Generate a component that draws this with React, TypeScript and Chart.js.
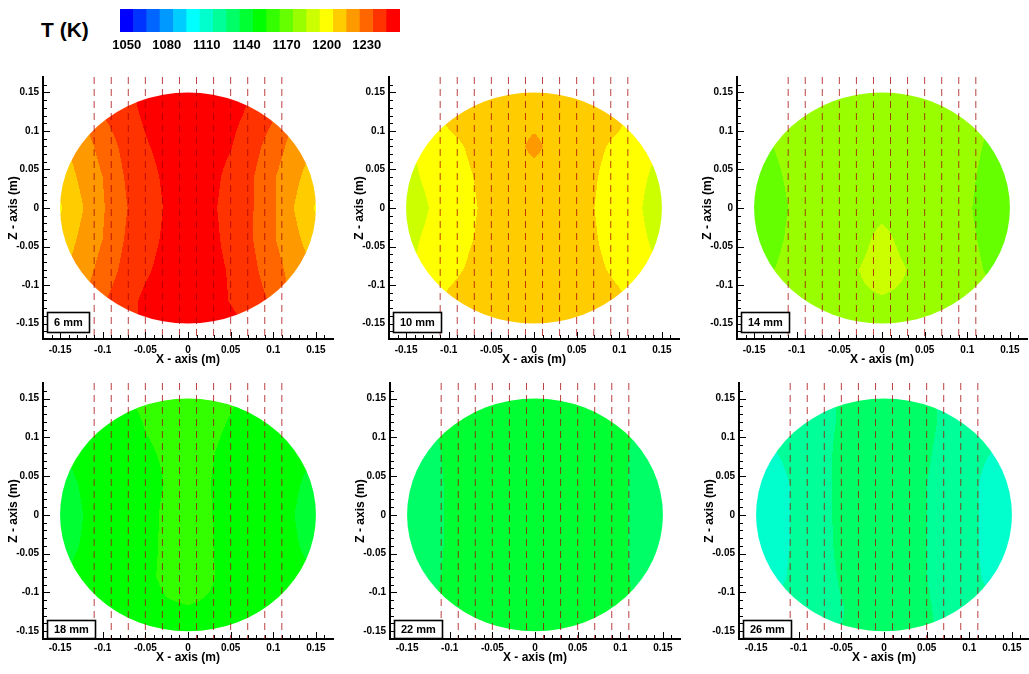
import { useEffect, useRef } from 'react';
import { Chart, registerables } from 'chart.js';

Chart.register(...registerables);

const FONT = "'Liberation Sans', Arial, Helvetica, sans-serif";
Chart.defaults.font.family = FONT;

// ---------------- data ----------------
const LEGEND_LEVELS = [1050, 1060, 1070, 1080, 1090, 1100, 1110, 1120, 1130, 1140, 1150, 1160, 1170, 1180, 1190, 1200, 1210, 1220, 1230, 1240, 1250];
const LEGEND_TICKS = [1050, 1080, 1110, 1140, 1170, 1200, 1230];
const BAND_COLORS = [
  '#0000ff', '#0033ff', '#0066ff', '#0099ff', '#00ccff', '#00ffff', '#00ffcc', '#00ff99', '#00ff66', '#00ff33',
  '#00ff00', '#33ff00', '#66ff00', '#99ff00', '#ccff00', '#ffff00', '#ffcc00', '#ff9900', '#ff6600', '#ff3300', '#ff0000',
];
const AXIS_TICKS = [-0.15, -0.1, -0.05, 0, 0.05, 0.1, 0.15];
const PROBE_X = [-0.11, -0.09, -0.07, -0.05, -0.03, -0.01, 0.01, 0.03, 0.05, 0.07, 0.09, 0.11];
const DUCT_RADIUS = 0.15;

// temperature grids (K): columns GRID_X, rows GRID_Z (top to bottom)
const GRID_X = [-0.15, -0.125, -0.1, -0.075, -0.05, -0.025, 0, 0.025, 0.05, 0.075, 0.1, 0.125, 0.15];
const GRID_Z = [0.15, 0.12, 0.08, 0.04, 0, -0.04, -0.08, -0.12, -0.15];

const T_6MM = [
  [1222, 1228, 1237, 1243, 1247.5, 1250.5, 1252, 1251, 1249, 1245, 1238, 1229, 1223],
  [1218, 1223, 1235, 1241, 1246.5, 1250, 1252, 1250, 1247.5, 1243, 1236, 1224, 1219],
  [1213, 1220, 1228.5, 1237.5, 1244, 1248.5, 1252, 1249, 1245.5, 1239, 1230, 1221, 1214],
  [1208, 1217, 1225, 1235, 1241.25, 1247, 1251, 1248, 1242.5, 1236, 1226, 1217.5, 1209],
  [1204, 1214, 1224, 1234, 1240, 1246, 1250, 1247, 1241.5, 1235.7, 1226.2, 1214.6, 1204],
  [1208, 1217, 1225, 1235, 1241, 1247, 1251, 1248, 1242, 1235.5, 1226, 1217.5, 1209],
  [1213, 1220, 1228.5, 1237.5, 1243.5, 1248.5, 1252, 1248.5, 1244, 1237.5, 1229, 1221, 1214],
  [1218, 1223, 1234, 1241, 1247, 1249.5, 1252, 1249, 1244.5, 1240, 1233, 1222, 1216],
  [1222, 1228, 1236, 1242, 1247, 1250, 1252, 1250.5, 1247.5, 1243, 1236, 1227, 1221],
];
const T_10MM = [
  [1201, 1205, 1208, 1210, 1211, 1211.5, 1212, 1211.5, 1211, 1210, 1208, 1205, 1201],
  [1198, 1202, 1207, 1209, 1210.5, 1211, 1211, 1211, 1210.5, 1209, 1207, 1202, 1198],
  [1194, 1198, 1202.5, 1206, 1209, 1211, 1218, 1211, 1209, 1206.3, 1203, 1198.5, 1194.5],
  [1192, 1196.6, 1200.6, 1204.5, 1207.5, 1209.5, 1210.5, 1209.5, 1207.5, 1205, 1200.8, 1196.5, 1192],
  [1189, 1194.6, 1199.3, 1203.9, 1207, 1209, 1210, 1209, 1207, 1204.6, 1200, 1195.4, 1190],
  [1192, 1196.6, 1200.6, 1204.5, 1207.5, 1209.5, 1210.5, 1209.5, 1207.5, 1205, 1200.8, 1196.5, 1192],
  [1194, 1198, 1202.8, 1206, 1209, 1210.5, 1211, 1210.5, 1209, 1206.3, 1203, 1198.5, 1194.5],
  [1198, 1202, 1206.5, 1209, 1210.5, 1211, 1211, 1211, 1210.5, 1209, 1206.5, 1202, 1198],
  [1201, 1205, 1208, 1210, 1211, 1211.5, 1212, 1211.5, 1211, 1210, 1208, 1205, 1201],
];
const T_14MM = [
  [1177, 1178, 1178.5, 1179, 1179.5, 1180, 1180, 1180, 1179.5, 1179, 1178.5, 1177.5, 1176.5],
  [1175.5, 1176.5, 1177.5, 1178.5, 1179.5, 1180, 1180.5, 1180, 1179.5, 1178.5, 1177.5, 1175, 1175],
  [1173, 1175.2, 1177, 1178, 1179, 1180, 1180.5, 1180, 1179, 1178, 1176.5, 1174.4, 1173],
  [1172, 1174.2, 1176.5, 1178, 1179, 1180, 1181, 1180, 1179, 1178, 1176, 1173.6, 1172],
  [1171, 1173.5, 1176, 1178, 1179, 1180, 1181, 1180, 1179, 1178, 1175.6, 1173, 1171],
  [1172, 1174, 1176.5, 1178, 1179, 1181, 1189, 1181.5, 1179, 1178, 1176, 1173.8, 1172],
  [1173.5, 1175.1, 1177, 1178, 1180, 1185.5, 1192, 1186, 1180, 1178, 1176.5, 1174.5, 1173],
  [1175.5, 1176.5, 1177.5, 1178.5, 1179.5, 1182.5, 1183.5, 1182.5, 1179.5, 1178.5, 1177.5, 1176, 1175.5],
  [1177, 1178, 1178.5, 1179, 1179.5, 1180, 1180.5, 1180, 1179.5, 1179, 1178.5, 1177.5, 1177],
];
const T_18MM = [
  [1149, 1149, 1151, 1154, 1157, 1158, 1158, 1158, 1156, 1153, 1151, 1149, 1149],
  [1148, 1148, 1150, 1152, 1155.5, 1157, 1157.5, 1157, 1154.5, 1151.5, 1150, 1148, 1148],
  [1144.5, 1147, 1149, 1151, 1154, 1156, 1157, 1155.7, 1153, 1150.5, 1149, 1147, 1145],
  [1142.5, 1145.5, 1148, 1150, 1152, 1155.5, 1157, 1155.2, 1152, 1150, 1148, 1145.8, 1143],
  [1141, 1144.7, 1148, 1150, 1152.5, 1156.5, 1158, 1155.5, 1152, 1150, 1148, 1145, 1141.5],
  [1142.5, 1145.3, 1148, 1150, 1152.5, 1156.6, 1158, 1155.7, 1152, 1150, 1148, 1145.6, 1143],
  [1144.5, 1147, 1149, 1150.5, 1153, 1157, 1158.5, 1156, 1152.5, 1150.5, 1149, 1147, 1145],
  [1147.5, 1148, 1149.5, 1150.5, 1151, 1154, 1154.7, 1154, 1151, 1150.5, 1149.5, 1148, 1147.5],
  [1149, 1149, 1150, 1150.5, 1151, 1151.5, 1152, 1151.5, 1151, 1150.5, 1150, 1149, 1149],
];
const T_22MM = [
  [1135, 1136, 1137.5, 1139, 1140, 1141, 1141.5, 1141, 1140, 1139, 1137.5, 1136, 1135],
  [1133.5, 1134.5, 1136.5, 1138.5, 1140, 1141, 1141.5, 1141, 1140, 1138.5, 1136.5, 1134.5, 1133.5],
  [1131, 1133.5, 1136, 1138, 1140, 1141, 1141.5, 1141, 1140, 1138, 1136, 1133.5, 1131],
  [1130, 1133, 1135.8, 1138, 1140, 1141, 1141.5, 1141, 1140, 1138, 1136, 1133.2, 1130],
  [1130, 1133, 1135.8, 1138, 1140, 1141, 1141.5, 1141, 1140, 1138, 1136, 1133.2, 1130],
  [1130, 1133, 1135.8, 1138, 1140, 1141, 1141.5, 1141, 1140, 1138, 1136, 1133.2, 1130],
  [1131, 1133.5, 1136, 1138, 1140, 1141, 1141.5, 1141, 1140, 1138, 1136, 1133.5, 1131],
  [1133.5, 1134.5, 1136.5, 1138.5, 1140, 1141, 1141.5, 1141, 1140, 1138.5, 1136.5, 1134.5, 1133.5],
  [1135, 1136, 1137.5, 1139, 1140, 1141, 1141.5, 1141, 1140, 1139, 1137.5, 1136, 1135],
];
const T_26MM = [
  [1118, 1119, 1120, 1122, 1126, 1129, 1130, 1129, 1127, 1123, 1120, 1119, 1118],
  [1116, 1117, 1119, 1122, 1126, 1128.5, 1130, 1128.5, 1127, 1123, 1119, 1117, 1116],
  [1113, 1115, 1117.5, 1121.5, 1127.5, 1129, 1130, 1129, 1126, 1122, 1117.5, 1115, 1113],
  [1110.5, 1113, 1116.5, 1121, 1128, 1129, 1130, 1129, 1125, 1121.5, 1117, 1112.5, 1110],
  [1110, 1113, 1116.5, 1121, 1128, 1129, 1130, 1129, 1125, 1121.5, 1117, 1112.5, 1109],
  [1110.5, 1113, 1116.5, 1121, 1127.5, 1129, 1130, 1129, 1125, 1121.5, 1117, 1112.5, 1110],
  [1112, 1113.5, 1117, 1121, 1126, 1128.5, 1130, 1128.5, 1125, 1121.5, 1117, 1113.5, 1112],
  [1115, 1116, 1118, 1121, 1124.5, 1128, 1130, 1128, 1126, 1122, 1118, 1116, 1115],
  [1117, 1118, 1119.5, 1121.5, 1125, 1128.5, 1130, 1128.5, 1126.5, 1122.5, 1119.5, 1118, 1117],
];
const SECTION_LABELS = ['6 mm', '10 mm', '14 mm', '18 mm', '22 mm', '26 mm'];
const SECTION_GRIDS = [T_6MM, T_10MM, T_14MM, T_18MM, T_22MM, T_26MM];

// ---------------- layout (page pixels of each plot area) ----------------
const ROWS = [
  { top: 77, bottom: 339, yMin: -0.17, yMax: 0.17, tickPad: 5, titlePad: 6 },
  { top: 383, bottom: 639, yMin: -0.16, yMax: 0.17, tickPad: 3, titlePad: 8 },
];
const COLS = [
  [{ left: 43, right: 333 }, { left: 389, right: 679 }, { left: 737, right: 1027 }],
  [{ left: 43, right: 333 }, { left: 390, right: 680 }, { left: 739, right: 1029 }],
];
const X_RANGE = [-0.17, 0.17];
const Y_AXIS_W = 43;
const X_AXIS_H = 34;
const PAD_TOP = 10;
const PAD_RIGHT = 8;

const BAND_RGB = BAND_COLORS.map((h) => [
  parseInt(h.slice(1, 3), 16),
  parseInt(h.slice(3, 5), 16),
  parseInt(h.slice(5, 7), 16),
]);

function clamp(v: number, a: number, b: number) {
  return v < a ? a : v > b ? b : v;
}

function sampleGrid(g: number[][], x: number, z: number) {
  let i = 0;
  while (i < GRID_X.length - 2 && x > GRID_X[i + 1]) i++;
  let j = 0;
  while (j < GRID_Z.length - 2 && z < GRID_Z[j + 1]) j++;
  const tx = clamp((x - GRID_X[i]) / (GRID_X[i + 1] - GRID_X[i]), 0, 1);
  const tz = clamp((z - GRID_Z[j]) / (GRID_Z[j + 1] - GRID_Z[j]), 0, 1);
  const a = g[j][i] * (1 - tx) + g[j][i + 1] * tx;
  const b = g[j + 1][i] * (1 - tx) + g[j + 1][i + 1] * tx;
  return a * (1 - tz) + b * tz;
}

function makeFieldPlugin(grid: number[][]) {
  return {
    id: 'tempField',
    beforeDatasetsDraw(chart: any) {
      const { ctx, chartArea: a, scales } = chart;
      const xs = scales.x;
      const ys = scales.y;
      const left = Math.floor(a.left);
      const top = Math.floor(a.top);
      const w = Math.ceil(a.right) - left;
      const h = Math.ceil(a.bottom) - top;
      const off = document.createElement('canvas');
      off.width = w;
      off.height = h;
      const octx = off.getContext('2d') as CanvasRenderingContext2D;
      const img = octx.createImageData(w, h);
      const rr = (DUCT_RADIUS * 1.04) ** 2;
      const step = LEGEND_LEVELS[1] - LEGEND_LEVELS[0];
      const base = LEGEND_LEVELS[0] - step / 2;
      for (let j = 0; j < h; j++) {
        const z = ys.getValueForPixel(top + j + 0.5);
        for (let i = 0; i < w; i++) {
          const x = xs.getValueForPixel(left + i + 0.5);
          if (x * x + z * z > rr) continue;
          const t = sampleGrid(grid, x, z);
          const k = clamp(Math.floor((t - base) / step), 0, BAND_RGB.length - 1);
          const c = BAND_RGB[k];
          const p = (j * w + i) * 4;
          img.data[p] = c[0];
          img.data[p + 1] = c[1];
          img.data[p + 2] = c[2];
          img.data[p + 3] = 255;
        }
      }
      octx.putImageData(img, 0, 0);
      const cx = xs.getPixelForValue(0);
      const cy = ys.getPixelForValue(0);
      const rx = Math.abs(xs.getPixelForValue(DUCT_RADIUS) - cx);
      const ry = Math.abs(ys.getPixelForValue(DUCT_RADIUS) - cy);
      ctx.save();
      ctx.beginPath();
      ctx.ellipse(cx, cy, rx, ry, 0, 0, Math.PI * 2);
      ctx.clip();
      ctx.drawImage(off, left, top);
      ctx.restore();
    },
  };
}

const inwardTicksPlugin = {
  id: 'inwardTicks',
  afterDraw(chart: any) {
    const { ctx, chartArea: a, scales } = chart;
    const xs = scales.x;
    const ys = scales.y;
    ctx.save();
    ctx.strokeStyle = '#000';
    ctx.lineWidth = 1;
    ctx.beginPath();
    for (let n = -16; n <= 16; n++) {
      const v = n / 100;
      const len = n % 5 === 0 ? 6 : 3;
      if (v > xs.min && v < xs.max) {
        const px = Math.round(xs.getPixelForValue(v)) + 0.5;
        ctx.moveTo(px, a.bottom - 1);
        ctx.lineTo(px, a.bottom - 1 - len);
      }
      if (v > ys.min + 1e-9 && v < ys.max - 1e-9) {
        const py = Math.round(ys.getPixelForValue(v)) + 0.5;
        ctx.moveTo(a.left + 1, py);
        ctx.lineTo(a.left + 1 + len, py);
      }
    }
    ctx.stroke();
    ctx.restore();
  },
};

function makeLabelPlugin(label: string) {
  return {
    id: 'sectionLabel',
    afterDraw(chart: any) {
      const { ctx, chartArea: a, scales } = chart;
      ctx.save();
      ctx.font = `bold 11px ${FONT}`;
      const tw = ctx.measureText(label).width;
      const x0 = Math.round(scales.x.getPixelForValue(-0.165)) + 0.5;
      const y0 = Math.round(scales.y.getPixelForValue(-0.135)) + 0.5;
      const y1 = Math.min(Math.round(scales.y.getPixelForValue(-0.161)) + 0.5, a.bottom - 0.5);
      const w = Math.round(tw + 13);
      ctx.fillStyle = '#fff';
      ctx.fillRect(x0, y0, w, y1 - y0);
      ctx.strokeStyle = '#000';
      ctx.lineWidth = 1.6;
      ctx.strokeRect(x0, y0, w, y1 - y0);
      ctx.fillStyle = '#000';
      ctx.textBaseline = 'middle';
      ctx.textAlign = 'left';
      ctx.fillText(label, x0 + 6.5, (y0 + y1) / 2 + 0.5);
      ctx.restore();
    },
  };
}

function fmtTick(v: number) {
  return String(Math.round(Number(v) * 100) / 100);
}

function SectionPlot({ index }: { index: number }) {
  const ref = useRef<HTMLCanvasElement>(null);
  const rowIdx = index < 3 ? 0 : 1;
  const row = ROWS[rowIdx];
  const col = COLS[rowIdx][index % 3];
  const width = col.right - col.left + Y_AXIS_W + PAD_RIGHT;
  const height = row.bottom - row.top + PAD_TOP + X_AXIS_H;
  const left = col.left - Y_AXIS_W;
  const top = row.top - PAD_TOP;

  useEffect(() => {
    const canvas = ref.current;
    if (!canvas) return;
    const datasets = PROBE_X.map((px) => ({
      data: [
        { x: px, y: row.yMax },
        { x: px, y: row.yMin },
      ],
      showLine: true,
      borderColor: 'rgba(165,0,0,0.75)',
      borderWidth: 1,
      borderDash: [7, 5],
      pointRadius: 0,
      fill: false,
    }));
    const chart = new Chart(canvas, {
      type: 'scatter',
      data: { datasets },
      options: {
        animation: false,
        responsive: false,
        devicePixelRatio: 1,
        events: [],
        layout: { padding: { top: PAD_TOP, right: PAD_RIGHT, left: 0, bottom: 0 } },
        plugins: { legend: { display: false }, tooltip: { enabled: false } },
        scales: {
          x: {
            type: 'linear',
            min: X_RANGE[0],
            max: X_RANGE[1],
            grid: { display: false, drawTicks: false, tickLength: 0 },
            border: { display: true, color: '#000', width: 2 },
            afterBuildTicks: (s: any) => {
              s.ticks = AXIS_TICKS.map((v) => ({ value: v }));
            },
            afterFit: (s: any) => {
              s.height = X_AXIS_H;
            },
            ticks: {
              color: '#000',
              font: { size: 10, weight: 'bold' },
              padding: row.tickPad,
              maxRotation: 0,
              autoSkip: false,
              callback: (v: any) => fmtTick(v),
            },
            title: {
              display: true,
              text: 'X - axis (m)',
              color: '#000',
              font: { size: 12, weight: 'bold' },
              padding: { top: 0, bottom: row.titlePad },
            },
          },
          y: {
            type: 'linear',
            min: row.yMin,
            max: row.yMax,
            grid: { display: false, drawTicks: false, tickLength: 0 },
            border: { display: true, color: '#000', width: 2 },
            afterBuildTicks: (s: any) => {
              s.ticks = AXIS_TICKS.map((v) => ({ value: v }));
            },
            afterFit: (s: any) => {
              s.width = Y_AXIS_W;
            },
            ticks: {
              color: '#000',
              font: { size: 10, weight: 'bold' },
              padding: 4,
              autoSkip: false,
              callback: (v: any) => fmtTick(v),
            },
            title: {
              display: true,
              text: 'Z - axis (m)',
              color: '#000',
              font: { size: 12, weight: 'bold' },
              padding: { top: 6, bottom: 0 },
            },
          },
        },
      } as any,
      plugins: [makeFieldPlugin(SECTION_GRIDS[index]), inwardTicksPlugin, makeLabelPlugin(SECTION_LABELS[index])],
    });
    return () => chart.destroy();
  }, [index]);

  return (
    <canvas
      ref={ref}
      width={width}
      height={height}
      style={{ position: 'absolute', left, top, width, height }}
    />
  );
}

function ColorBar() {
  const ref = useRef<HTMLCanvasElement>(null);
  const width = 300;
  const height = 60;
  useEffect(() => {
    const canvas = ref.current;
    if (!canvas) return;
    const chart = new Chart(canvas, {
      type: 'bar',
      data: {
        labels: LEGEND_LEVELS.map(String),
        datasets: [
          {
            data: LEGEND_LEVELS.map(() => 1),
            backgroundColor: BAND_COLORS,
            borderWidth: 0,
            barPercentage: 1,
            categoryPercentage: 1,
          },
        ],
      },
      options: {
        animation: false,
        responsive: false,
        devicePixelRatio: 1,
        events: [],
        layout: { padding: { left: 10, right: 6, top: 9, bottom: 0 } },
        plugins: { legend: { display: false }, tooltip: { enabled: false } },
        scales: {
          x: {
            type: 'category',
            grid: { display: false, drawTicks: false },
            border: { display: false },
            afterFit: (s: any) => {
              s.height = 28;
            },
            ticks: {
              color: '#000',
              font: { size: 13, weight: 'bold' },
              padding: 6,
              autoSkip: false,
              maxRotation: 0,
              minRotation: 0,
              callback: (_v: any, i: number) =>
                LEGEND_TICKS.includes(LEGEND_LEVELS[i]) ? String(LEGEND_LEVELS[i]) : '',
            },
          },
          y: { display: false, min: 0, max: 1 },
        },
      } as any,
    });
    return () => chart.destroy();
  }, []);
  return (
    <canvas
      ref={ref}
      width={width}
      height={height}
      style={{ position: 'absolute', left: 106, top: 0, width, height }}
    />
  );
}

export default function App() {
  return (
    <div
      style={{
        position: 'absolute',
        left: 0,
        top: 0,
        width: 1029,
        height: 674,
        overflow: 'hidden',
        background: '#fff',
        fontFamily: FONT,
      }}
    >
      <div
        style={{
          position: 'absolute',
          left: 41,
          top: 19,
          fontSize: 21,
          lineHeight: '21px',
          fontWeight: 'bold',
          color: '#000',
          whiteSpace: 'nowrap',
        }}
      >
        T (K)
      </div>
      <ColorBar />
      {SECTION_LABELS.map((_, i) => (
        <SectionPlot key={i} index={i} />
      ))}
    </div>
  );
}
